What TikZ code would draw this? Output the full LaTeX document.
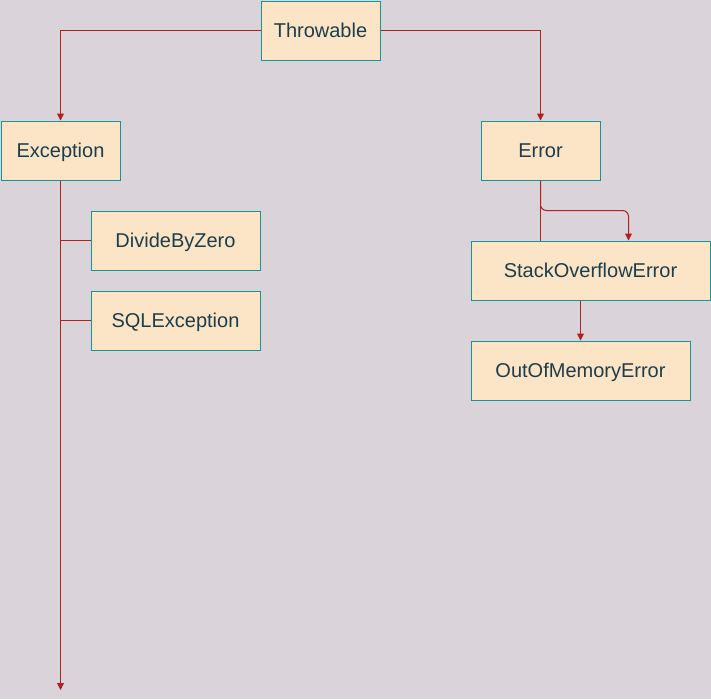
\documentclass[tikz,border=0pt]{standalone}
\usepackage{fontspec}
\setmainfont{Liberation Sans}
\usetikzlibrary{arrows.meta}
\definecolor{bgc}{HTML}{DBD3DA}
\definecolor{boxfill}{HTML}{FCE5C7}
\definecolor{boxline}{HTML}{13969A}
\definecolor{txt}{HTML}{1E3D4A}
\definecolor{edge}{HTML}{B0201F}
\begin{document}
\begin{tikzpicture}[x=1pt,y=-1pt,
  cls/.style={draw=boxline,fill=boxfill,line width=1pt,text=txt,
    font=\fontsize{20}{24}\selectfont,inner sep=0pt,anchor=north west,
    text height=18.5pt,text depth=4.2pt},
  conn/.style={draw=edge,line width=1pt},
  arr/.style={conn,-{Triangle[length=7pt,width=7pt]}}]
\fill[bgc] (0,0) rectangle (711,699);
\useasboundingbox (0,0) rectangle (711,699);
\node[cls,minimum width=119pt,minimum height=59pt] (thr) at (260.5,0.5) {Throwable};
\node[cls,minimum width=119pt,minimum height=59pt] (exc) at (0.5,120.5) {Exception};
\node[cls,minimum width=119pt,minimum height=59pt] (err) at (480.5,120.5) {Error};
\node[cls,minimum width=169pt,minimum height=59pt] (div) at (90.5,210.5) {DivideByZero};
\node[cls,minimum width=169pt,minimum height=59pt] (sql) at (90.5,290.5) {SQLException};
\node[cls,minimum width=239pt,minimum height=59pt] (so) at (470.5,240.5) {StackOverflowError};
\node[cls,minimum width=219pt,minimum height=59pt] (oom) at (470.5,340.5) {OutOfMemoryError};
\coordinate (excend) at (60.5,690);
\coordinate (soin) at (628.5,240.5);
\draw[arr] (thr.west) -| (exc.north);
\draw[arr] (thr.east) -| (err.north);
\draw[arr] (exc.south) -- (excend);
\draw[conn] (div.west) -- (div.west -| exc.south);
\draw[conn] (sql.west) -- (sql.west -| exc.south);
\draw[conn] (err.south) -- (err.south |- so.north);
\draw[arr,rounded corners=6pt] (err.south) -- ++(0,30) -| (soin);
\draw[arr] (so.south -| oom.north) -- (oom.north);
\end{tikzpicture}
\end{document}
